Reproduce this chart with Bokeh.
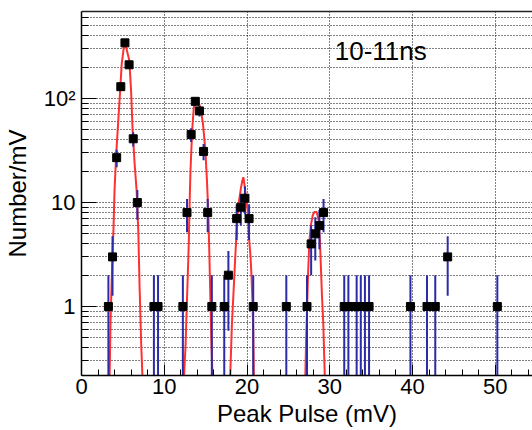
import math
from bokeh.plotting import figure
from bokeh.models import FixedTicker, LinearAxis, Label, Range1d, ColumnDataSource
from bokeh.embed import file_html
from bokeh.resources import INLINE

# ---------------- data ----------------
bin_centers = [3.25, 3.75, 4.25, 4.75, 5.25, 5.75, 6.25, 6.75,
               8.75, 9.25,
               12.25, 12.75, 13.25, 13.75, 14.25, 14.75, 15.25, 15.75,
               17.25, 17.75, 18.75, 19.25, 19.75, 20.25, 20.75,
               24.75, 27.25, 27.75, 28.25, 28.75, 29.25,
               31.75, 32.25, 33.25, 33.75, 34.25, 34.75,
               39.75, 41.75, 42.75, 44.25, 50.25]
counts = [1, 3, 27, 130, 343, 211, 41, 10,
          1, 1,
          1, 8, 45, 94, 76, 31, 8, 1,
          1, 2, 7, 9, 11, 7, 1,
          1, 1, 4, 5, 6, 8,
          1, 1, 1, 1, 1, 1,
          1, 1, 1, 3, 1]

fit1_x = [3.39, 3.51, 3.71, 3.87, 3.99, 4.19, 4.47, 4.67, 4.86, 5.19, 5.39, 5.78,
          5.99, 6.18, 6.42, 6.66, 6.86, 7.02, 7.22, 7.38]
fit1_y = [0.2, 0.73, 2.57, 5.8, 13, 29, 66, 119, 216, 348, 311, 232,
          119, 49, 23.6, 13, 5.4, 1.53, 0.42, 0.2]
fit2_x = [12.37, 12.57, 12.69, 12.85, 12.97, 13.05, 13.17, 13.37, 13.57, 13.77, 14.05,
          14.37, 14.68, 14.97, 15.16, 15.33, 15.45, 15.57, 15.69, 15.84]
fit2_y = [0.2, 0.41, 0.85, 2.06, 4.3, 9.0, 20.3, 49, 82, 99, 96,
          82, 57, 31.6, 16.3, 7.8, 3.2, 1.23, 0.47, 0.2]
fit3_x = [17.96, 18.16, 18.36, 18.56, 18.75, 18.87, 19.04, 19.28, 19.44, 19.56,
          19.68, 19.83, 20.07, 20.24, 20.43, 20.55, 20.67, 20.75, 20.84]
fit3_y = [0.2, 0.63, 1.32, 2.77, 5.4, 7.8, 10.4, 14, 16.3, 17.5,
          15.1, 12.1, 8.4, 4.6, 2.98, 1.91, 1.06, 0.59, 0.2]
fit4_x = [27.04, 27.14, 27.26, 27.38, 27.54, 27.74, 27.94, 28.14, 28.42, 28.66,
          28.81, 28.93, 29.05, 29.22, 29.41]
fit4_y = [0.2, 0.47, 0.98, 2.06, 4.3, 6.2, 7.5, 8.1, 8.1, 6.7,
          4.3, 2.39, 1.32, 0.68, 0.2]

x_major = [0, 10, 20, 30, 40, 50]
x_minor = [2, 4, 6, 8, 12, 14, 16, 18, 22, 24, 26, 28, 32, 34, 36, 38,
           42, 44, 46, 48, 52, 54]
y_major = [1, 10, 100]
y_minor = [0.3, 0.4, 0.5, 0.6, 0.7, 0.8, 0.9,
           2, 3, 4, 5, 6, 7, 8, 9,
           20, 30, 40, 50, 60, 70, 80, 90,
           200, 300, 400, 500, 600]
y_labels = {1: "1", 10: "10", 100: "10²"}
title_text = "10-11ns"
x_title = "Peak Pulse (mV)"
y_title = "Number/mV"

FONT = "Liberation Sans"
BLUE = "#2b2ba6"
RED = "#ff3030"

p = figure(width=532, height=430, output_backend="svg", toolbar_location=None,
           y_axis_type="log",
           x_range=Range1d(0, 54.5), y_range=Range1d(0.217, 687),
           min_border_left=77, min_border_right=0, min_border_top=11,
           min_border_bottom=55)
p.outline_line_color = None
p.background_fill_color = "white"
p.border_fill_color = "white"

# grids
p.xgrid.ticker = FixedTicker(ticks=x_major[1:])
p.xgrid.grid_line_color = "black"
p.xgrid.grid_line_dash = "1 2"
p.xgrid.grid_line_width = 1
p.ygrid.ticker = FixedTicker(ticks=y_major, minor_ticks=y_minor)
p.ygrid.grid_line_color = "black"
p.ygrid.grid_line_dash = "1 2"
p.ygrid.minor_grid_line_color = "black"
p.ygrid.minor_grid_line_dash = "1 2"

# axes
xa = p.xaxis[0]
xa.ticker = FixedTicker(ticks=x_major, minor_ticks=x_minor)
xa.major_tick_in = 11
xa.major_tick_out = 0
xa.minor_tick_in = 6
xa.minor_tick_out = 0
xa.axis_line_width = 1.5
xa.axis_line_color = "black"
xa.major_tick_line_color = "black"
xa.minor_tick_line_color = "black"
xa.major_label_text_font = FONT
xa.major_label_text_font_size = "22px"
xa.major_label_text_color = "black"
xa.major_label_standoff = 3
xa.axis_label = x_title
xa.axis_label_text_font = FONT
xa.axis_label_text_font_size = "24px"
xa.axis_label_text_font_style = "normal"
xa.axis_label_text_color = "black"
xa.axis_label_standoff = 3

ya = p.yaxis[0]
ya.ticker = FixedTicker(ticks=y_major, minor_ticks=y_minor)
ya.major_label_overrides = y_labels
ya.major_tick_in = 15
ya.major_tick_out = 0
ya.minor_tick_in = 7
ya.minor_tick_out = 0
ya.axis_line_width = 1.5
ya.axis_line_color = "black"
ya.major_tick_line_color = "black"
ya.minor_tick_line_color = "black"
ya.major_label_text_font = FONT
ya.major_label_text_font_size = "22px"
ya.major_label_text_color = "black"
ya.major_label_standoff = 6
ya.axis_label = y_title
ya.axis_label_text_font = FONT
ya.axis_label_text_font_size = "24px"
ya.axis_label_text_font_style = "normal"
ya.axis_label_text_color = "black"
ya.axis_label_standoff = 10

top = LinearAxis(ticker=FixedTicker(ticks=[]), major_label_text_font_size="0px",
                 major_tick_line_color=None, minor_tick_line_color=None,
                 axis_line_width=1.5, axis_line_color="#222222")
p.add_layout(top, "above")

# fit curves
for fx, fy in [(fit1_x, fit1_y), (fit2_x, fit2_y), (fit3_x, fit3_y), (fit4_x, fit4_y)]:
    p.line(fx, fy, line_color=RED, line_width=2)

# error bars + markers
err_lo = [max(c - math.sqrt(c), 1e-3) for c in counts]
err_hi = [c + math.sqrt(c) for c in counts]
src = ColumnDataSource(dict(x=bin_centers, y=counts, lo=err_lo, hi=err_hi))
p.segment(x0="x", y0="lo", x1="x", y1="hi", source=src, line_color=BLUE, line_width=2)
p.scatter(x="x", y="y", source=src, marker="square", size=8,
          fill_color="black", line_color="black")

p.add_layout(Label(x=30.6, y=289, text=title_text, text_font=FONT,
                   text_font_size="26px", text_baseline="middle", text_align="left",
                   text_color="black"))

open("out.html", "w").write(file_html(p, INLINE))
